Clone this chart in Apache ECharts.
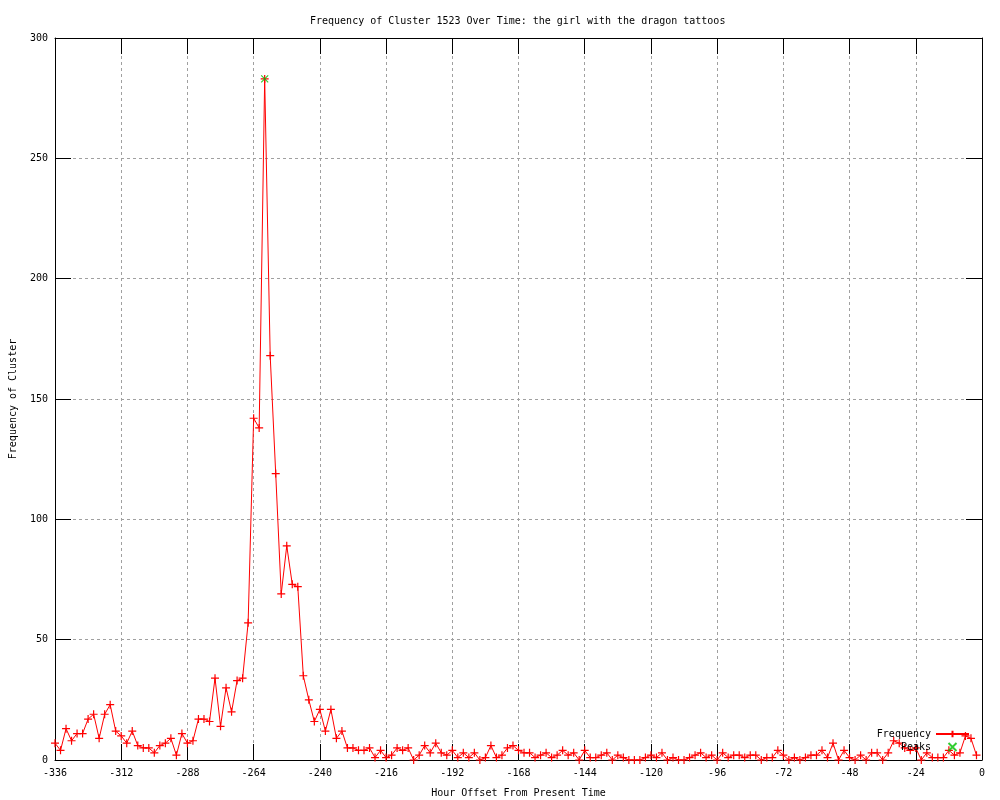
<!DOCTYPE html>
<html>
<head>
<meta charset="utf-8">
<script src="https://cdn.jsdelivr.net/npm/echarts@6/dist/echarts.min.js"></script>
<style>
  html, body { margin: 0; padding: 0; background: #ffffff; }
  #chart { width: 1000px; height: 800px; }
</style>
</head>
<body>
<div id="chart"></div>
<script>
// Hour offsets: every 2 hours from -336 to -2
const START_HOUR = -336;
const HOUR_STEP = 2;

// Frequency values, one per 2-hour bin
const frequency = [
  7, 4, 13, 8, 11, 11, 17, 19, 9, 19, 23, 12, 10,      // -336 .. -312
  7, 12, 6, 5, 5, 3, 6, 7, 9, 2, 11, 7,                // -310 .. -288
  8, 17, 17, 16, 34, 14, 30, 20, 33, 34, 57, 142,      // -286 .. -264
  138, 283, 168, 119, 69, 89, 73, 72, 35, 25, 16, 21,  // -262 .. -240
  12, 21, 9, 12, 5, 5, 4, 4, 5, 1, 4, 1,               // -238 .. -216
  2, 5, 4, 5, 0, 2, 6, 3, 7, 3, 2, 4,                  // -214 .. -192
  1, 3, 1, 3, 0, 1, 6, 1, 2, 5, 6, 4,                  // -190 .. -168
  3, 3, 1, 2, 3, 1, 2, 4, 2, 3, 0, 4,                  // -166 .. -144
  1, 1, 2, 3, 0, 2, 1, 0, 0, 0, 1, 2,                  // -142 .. -120
  1, 3, 0, 1, 0, 0, 1, 2, 3, 1, 2, 0,                  // -118 .. -96
  3, 1, 2, 2, 1, 2, 2, 0, 1, 1, 4, 2,                  // -94 .. -72
  0, 1, 0, 1, 2, 2, 4, 1, 7, 0, 4, 1,                  // -70 .. -48
  0, 2, 0, 3, 3, 0, 3, 8, 7, 5, 4, 5,                  // -46 .. -24
  0, 3, 1, 1, 1, 4, 2, 3, 10, 9, 2                     // -22 .. -2
];

// Detected peaks
const peakHours = [-260];
const peakValues = [283];

// Axis ticks
const xTicks = { min: -336, max: 0, interval: 24 };
const yTicks = { min: 0, max: 300, interval: 50 };

const titleText = 'Frequency of Cluster 1523 Over Time: the girl with the dragon tattoos';
const xName = 'Hour Offset From Present Time';
const yName = 'Frequency of Cluster';

const freqData = frequency.map((v, i) => [START_HOUR + i * HOUR_STEP, v]);
const peakData = peakHours.map((h, i) => [h, peakValues[i]]);

const FONT = 'DejaVu Sans Mono';
const PLUS = 'path://M0 5L10 5M5 0L5 10';
const CROSS = 'path://M0 0L10 10M10 0L0 10';

const chart = echarts.init(document.getElementById('chart'), null, { renderer: 'canvas' });

const tickStyle = { show: true, inside: true, length: 16, lineStyle: { color: '#000', width: 1 } };
const lineStyle = { show: true, onZero: false, lineStyle: { color: '#000', width: 1 } };

chart.setOption({
  animation: false,
  backgroundColor: '#ffffff',
  textStyle: { fontFamily: FONT },
  title: {
    text: titleText,
    left: 305,
    top: 11,
    textStyle: { fontFamily: FONT, fontSize: 10, fontWeight: 'normal', color: '#000' }
  },
  grid: { left: 55, right: 18, top: 38, bottom: 40, containLabel: false, outerBoundsMode: 'none' },
  legend: {
    orient: 'vertical',
    right: 25,
    top: 723,
    align: 'right',
    itemWidth: 33,
    itemHeight: 8,
    itemGap: 1,
    textStyle: { fontFamily: FONT, fontSize: 10, color: '#000', lineHeight: 12 },
    data: ['Frequency', 'Peaks']
  },
  xAxis: [
    {
      type: 'value',
      position: 'bottom',
      min: xTicks.min, max: xTicks.max, interval: xTicks.interval,
      name: xName,
      nameLocation: 'middle',
      nameGap: 28,
      nameTextStyle: { fontFamily: FONT, fontSize: 10, color: '#000' },
      axisLine: lineStyle,
      axisTick: tickStyle,
      axisLabel: { fontFamily: FONT, fontSize: 10, color: '#000', margin: 8 },
      splitLine: { show: true, lineStyle: { color: '#a0a0a0', width: 1, type: [3, 3] } }
    },
    {
      type: 'value',
      position: 'top',
      min: xTicks.min, max: xTicks.max, interval: xTicks.interval,
      axisLine: lineStyle,
      axisTick: tickStyle,
      axisLabel: { show: false },
      splitLine: { show: false }
    }
  ],
  yAxis: [
    {
      type: 'value',
      position: 'left',
      min: yTicks.min, max: yTicks.max, interval: yTicks.interval,
      name: yName,
      nameLocation: 'middle',
      nameGap: 37,
      nameTextStyle: { fontFamily: FONT, fontSize: 10, color: '#000' },
      axisLine: lineStyle,
      axisTick: tickStyle,
      axisLabel: { fontFamily: FONT, fontSize: 10, color: '#000', margin: 7 },
      splitLine: { show: true, lineStyle: { color: '#a0a0a0', width: 1, type: [3, 3] } }
    },
    {
      type: 'value',
      position: 'right',
      min: yTicks.min, max: yTicks.max, interval: yTicks.interval,
      axisLine: lineStyle,
      axisTick: tickStyle,
      axisLabel: { show: false },
      splitLine: { show: false }
    }
  ],
  series: [
    {
      name: 'Frequency',
      type: 'line',
      xAxisIndex: 0,
      yAxisIndex: 0,
      data: freqData,
      symbol: PLUS,
      symbolSize: 8,
      showAllSymbol: true,
      lineStyle: { color: '#ff0000', width: 1 },
      itemStyle: { color: '#ff0000', borderColor: '#ff0000', borderWidth: 1.2 },
      emphasis: { disabled: true },
      z: 3
    },
    {
      name: 'Peaks',
      type: 'scatter',
      xAxisIndex: 0,
      yAxisIndex: 0,
      data: peakData,
      symbol: CROSS,
      symbolSize: 7,
      itemStyle: { color: '#00c000', borderColor: '#00c000', borderWidth: 1.2 },
      emphasis: { disabled: true },
      z: 4
    }
  ]
});
</script>
</body>
</html>
